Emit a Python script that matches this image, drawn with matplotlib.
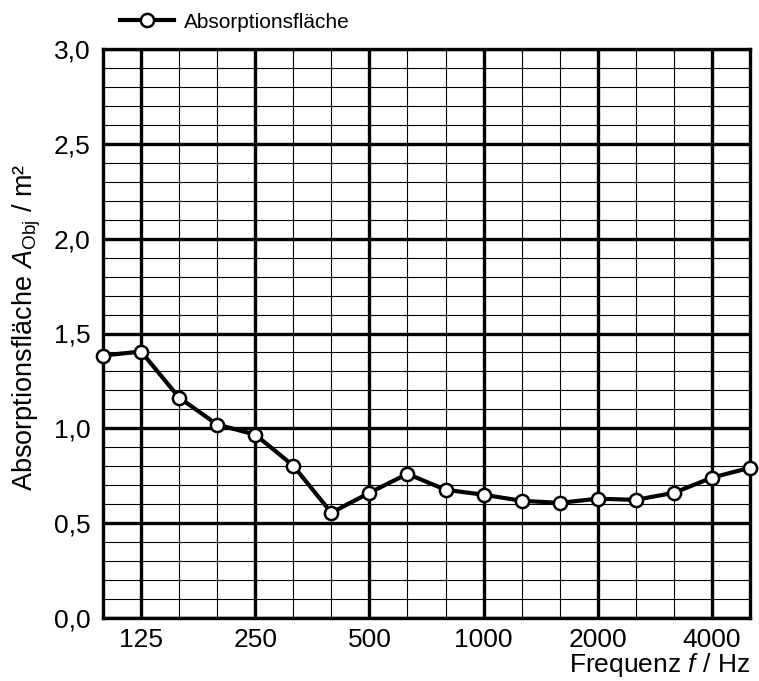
import numpy as np
import matplotlib
matplotlib.use("Agg")
import matplotlib.pyplot as plt
from matplotlib.lines import Line2D

plt.rcParams['font.family'] = ['Liberation Sans', 'DejaVu Sans']
plt.rcParams['mathtext.fontset'] = 'custom'
plt.rcParams['mathtext.rm'] = 'Liberation Sans'
plt.rcParams['mathtext.it'] = 'Liberation Sans:italic'

# Terzband-Mittenfrequenzen und Absorptionsfläche
freqs = [100, 125, 160, 200, 250, 315, 400, 500, 630, 800, 1000,
         1250, 1600, 2000, 2500, 3150, 4000, 5000]
area = [1.384, 1.405, 1.162, 1.02, 0.967, 0.803, 0.555, 0.66, 0.76, 0.676,
        0.65, 0.618, 0.607, 0.629, 0.623, 0.66, 0.74, 0.792]
octave_labels = ['125', '250', '500', '1000', '2000', '4000']

x = np.arange(len(freqs))
octave_idx = [freqs.index(int(f)) for f in octave_labels]

fig = plt.figure(figsize=(7.59, 6.81), dpi=100)
ax = fig.add_axes([103/759, 63/681, 647/759, 569/681])

# grid: thin every terz / 0.1, thick every octave / 0.5
for i in x:
    thick = i in octave_idx
    ax.axvline(i, color='black', lw=2.4 if thick else 0.8, zorder=1)
for v in np.round(np.arange(0, 3.01, 0.1), 2):
    thick = abs(v * 2 - round(v * 2)) < 1e-6
    ax.axhline(v, color='black', lw=2.4 if thick else 0.8, zorder=1)

ax.plot(x, area, color='black', lw=3, marker='o', ms=9.5, mfc='white',
        mec='black', mew=1.8, zorder=3, clip_on=False)

ax.set_xlim(0, len(freqs) - 1)
ax.set_ylim(0, 3)
ax.set_xticks(octave_idx)
ax.set_xticklabels(octave_labels)
ax.set_yticks(np.arange(0, 3.01, 0.5))
ax.set_yticklabels([f"{v:.1f}".replace('.', ',') for v in np.arange(0, 3.01, 0.5)])
ax.tick_params(length=0, labelsize=19)
ax.tick_params(axis='y', pad=9)
ax.tick_params(axis='x', pad=7)
for s in ax.spines.values():
    s.set_linewidth(2.4)

ax.set_ylabel(r"Absorptionsfläche $\mathit{A}_{\mathrm{Obj}}$ / m²", fontsize=19.5)
ax.yaxis.set_label_coords(-0.092, 0.51)
fig.text(750/759, 1 - 665/681, r"Frequenz $\mathit{f}$ / Hz", fontsize=19,
         ha='right', va='center')

handle = Line2D([], [], color='black', lw=3, marker='o', ms=9.5, mfc='white',
                mec='black', mew=1.8)
fig.legend([handle], ['Absorptionsfläche'], loc='center left',
           bbox_to_anchor=(101/759, 1 - 22/681), frameon=False, fontsize=15,
           handlelength=2.6, handletextpad=0.5)

fig.savefig("out.png", dpi=100)
